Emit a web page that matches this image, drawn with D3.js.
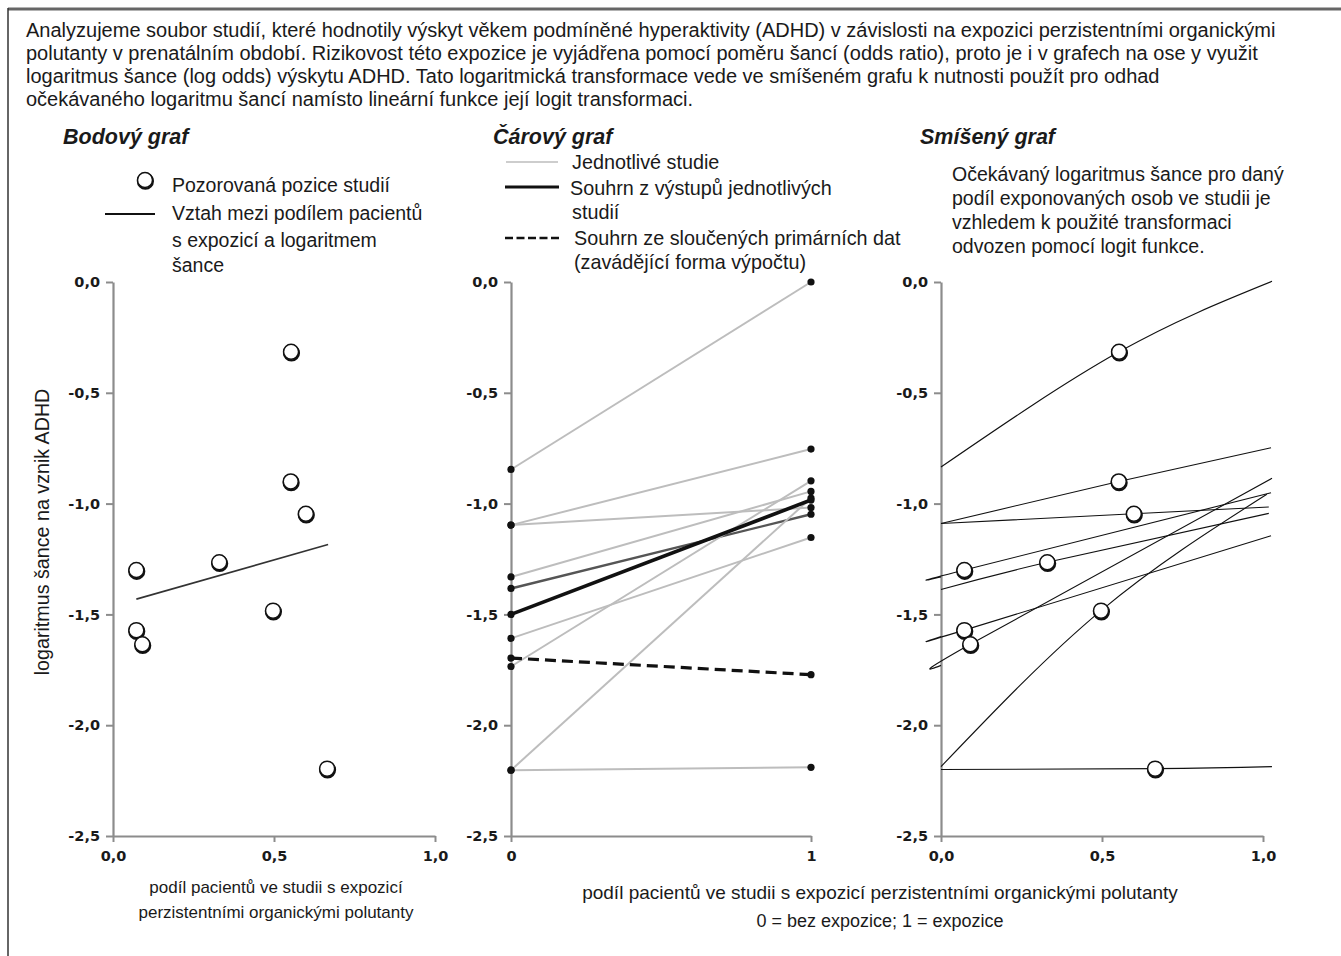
<!DOCTYPE html>
<html><head><meta charset="utf-8">
<script src="https://cdn.jsdelivr.net/npm/d3@7"></script>
<style>
body{margin:0;background:#fff;}
svg text{font-family:"Liberation Sans",Arial,sans-serif;fill:#1a1a1a;}
</style></head><body>
<svg id="chart" width="1341" height="956"></svg>
<script>
// Studies: share of exposed patients and observed log odds of ADHD
const studyShare   = [0.553, 0.552, 0.599, 0.0725, 0.330, 0.0725, 0.091, 0.497, 0.665];
const studyLogOdds = [-0.315, -0.90, -1.046, -1.30, -1.265, -1.571, -1.635, -1.483, -2.196];

// Weighted trend across studies (scatter panel)
const trendShare   = [0.0725, 0.668];
const trendLogOdds = [-1.431, -1.185];

// Log odds in the unexposed (0) and exposed (1) group of each study
const unexposedLogOdds = [-0.846, -1.097, -1.097, -1.331, -1.383, -1.608, -1.735, -2.203, -2.203];
const exposedLogOdds   = [0.0, -0.754, -1.018, -0.945, -1.048, -1.153, -0.897, -0.975, -2.19];
const pooledStudies = [-1.5, -0.984];   // summary of the study-level results
const pooledRaw     = [-1.697, -1.772]; // summary of pooled primary data

// Expected log odds curves (mixed panel): value at share 0 and at the curve's far end
const curveStart    = [-0.835, -1.09, -1.09, -1.331, -1.388, -1.60, -1.73, -2.187, -2.20];
const curveEnd      = [0.003, -0.748, -1.015, -0.951, -1.044, -1.145, -0.886, -0.958, -2.187];
const curveEndShare = [1.028, 1.025, 1.018, 1.025, 1.018, 1.025, 1.028, 1.012, 1.028];

const yTicks = [0, -0.5, -1, -1.5, -2, -2.5];
const shareTicks = [0, 0.5, 1];
const groupTicks = [0, 1];

const introLines = [
  "Analyzujeme soubor studií, které hodnotily výskyt věkem podmíněné hyperaktivity (ADHD) v závislosti na expozici perzistentními organickými",
  "polutanty v prenatálním období. Rizikovost této expozice je vyjádřena pomocí poměru šancí (odds ratio), proto je i v grafech na ose y využit",
  "logaritmus šance (log odds) výskytu ADHD. Tato logaritmická transformace vede ve smíšeném grafu k nutnosti použít pro odhad",
  "očekávaného logaritmu šancí namísto lineární funkce její logit transformaci."
];

const svg = d3.select("#chart");
const comma = d => d.toFixed(1).replace(".", ",");

// frame
svg.append("line").attr("x1", 8).attr("x2", 1341).attr("y1", 9).attr("y2", 9)
  .attr("stroke", "#666").attr("stroke-width", 3);
svg.append("line").attr("x1", 8).attr("x2", 8).attr("y1", 8).attr("y2", 956)
  .attr("stroke", "#333").attr("stroke-width", 1.5);

// intro paragraph
svg.append("g").selectAll("text").data(introLines).join("text")
  .attr("x", 26).attr("y", (d, i) => 37 + i * 23)
  .style("font-size", "20px").text(d => d);

const y = d3.scaleLinear().domain([-2.5, 0]).range([836, 282]);
const x1 = d3.scaleLinear().domain([0, 1]).range([113, 435]);
const x2 = d3.scaleLinear().domain([0, 1]).range([511, 811]);
const x3 = d3.scaleLinear().domain([0, 1]).range([941, 1263]);

function axes(x, ticks, fmt) {
  const g = svg.append("g");
  const ya = g.append("g").attr("transform", `translate(${x.range()[0]},0)`)
    .call(d3.axisLeft(y).tickValues(yTicks).tickSize(7).tickSizeOuter(0).tickPadding(6).tickFormat(comma));
  const xa = g.append("g").attr("transform", `translate(0,${y(-2.5)})`)
    .call(d3.axisBottom(x).tickValues(ticks).tickSize(6).tickSizeOuter(0).tickPadding(9).tickFormat(fmt));
  [ya, xa].forEach(a => {
    a.select(".domain").attr("stroke", "#8c8c8c").attr("stroke-width", 2.2);
    a.selectAll(".tick line").attr("stroke", "#8c8c8c").attr("stroke-width", 2);
    a.selectAll(".tick text").attr("fill", "#111")
      .style("font-family", "'DejaVu Sans', sans-serif").style("font-weight", "bold").style("font-size", "14.5px");
  });
}
axes(x1, shareTicks, comma);
axes(x2, groupTicks, d3.format("d"));
axes(x3, shareTicks, comma);

function studyCircle(g, cx, cy) {
  g.append("circle").attr("cx", cx + 0.4).attr("cy", cy + 1.2).attr("r", 7.5)
    .attr("fill", "none").attr("stroke", "#111").attr("stroke-width", 2.2);
  g.append("circle").attr("cx", cx).attr("cy", cy).attr("r", 7.5)
    .attr("fill", "#fff").attr("stroke", "#111").attr("stroke-width", 1.5);
}

// ---- Bodový graf ----
const p1 = svg.append("g");
p1.append("line")
  .attr("x1", x1(trendShare[0])).attr("y1", y(trendLogOdds[0]))
  .attr("x2", x1(trendShare[1])).attr("y2", y(trendLogOdds[1]))
  .attr("stroke", "#333").attr("stroke-width", 1.6);
studyShare.forEach((s, i) => studyCircle(p1, x1(s), y(studyLogOdds[i])));

// ---- Čárový graf ----
const p2 = svg.append("g");
const seg = d3.line().x(d => x2(d[0])).y(d => y(d[1]));
unexposedLogOdds.forEach((v, i) => {
  p2.append("path").attr("d", seg([[0, v], [1, exposedLogOdds[i]]]))
    .attr("fill", "none")
    .attr("stroke", i === 4 ? "#555" : "#bdbdbd")
    .attr("stroke-width", i === 4 ? 2.4 : 2);
});
p2.append("path").attr("d", seg([[0, pooledStudies[0]], [1, pooledStudies[1]]]))
  .attr("fill", "none").attr("stroke", "#111").attr("stroke-width", 3.6);
p2.append("path").attr("d", seg([[0, pooledRaw[0]], [1, pooledRaw[1]]]))
  .attr("fill", "none").attr("stroke", "#111").attr("stroke-width", 3.2)
  .attr("stroke-dasharray", "11,6");
const ends = [];
unexposedLogOdds.forEach((v, i) => { ends.push([0, v], [1, exposedLogOdds[i]]); });
ends.push([0, pooledStudies[0]], [1, pooledStudies[1]], [0, pooledRaw[0]], [1, pooledRaw[1]]);
p2.selectAll("circle.end").data(ends).join("circle").attr("class", "end")
  .attr("cx", d => x2(d[0])).attr("cy", d => y(d[1])).attr("r", 3.6).attr("fill", "#111");

// ---- Smíšený graf ----
const p3 = svg.append("g");
const curve = d3.line().x(d => x3(d[0])).y(d => y(d[1])).curve(d3.curveNatural);
curveStart.forEach((v, i) => {
  p3.append("path")
    .attr("d", curve([[0, v], [studyShare[i], studyLogOdds[i]], [curveEndShare[i], curveEnd[i]]]))
    .attr("fill", "none").attr("stroke", "#111").attr("stroke-width", 1.1);
});
studyShare.forEach((s, i) => studyCircle(p3, x3(s), y(studyLogOdds[i])));

// ---- titles ----
const titles = [["Bodový graf", 63], ["Čárový graf", 493], ["Smíšený graf", 920]];
titles.forEach(([t, x]) => svg.append("text").attr("x", x).attr("y", 144)
  .style("font-size", "21.5px").style("font-weight", "bold").style("font-style", "italic").text(t));

// legend: scatter
studyCircle(svg, 145, 180);
svg.append("line").attr("x1", 105).attr("x2", 155).attr("y1", 214).attr("y2", 214)
  .attr("stroke", "#111").attr("stroke-width", 2.2);
const leg1 = [["Pozorovaná pozice studií", 192], ["Vztah mezi podílem pacientů", 220],
  ["s expozicí a logaritmem", 247], ["šance", 272]];
leg1.forEach(([t, yy]) => svg.append("text").attr("x", 172).attr("y", yy).style("font-size", "19.5px").text(t));

// legend: lines
svg.append("line").attr("x1", 506).attr("x2", 558).attr("y1", 162).attr("y2", 162)
  .attr("stroke", "#bdbdbd").attr("stroke-width", 1.5);
svg.append("line").attr("x1", 505).attr("x2", 559).attr("y1", 187).attr("y2", 187)
  .attr("stroke", "#111").attr("stroke-width", 3);
svg.append("line").attr("x1", 505).attr("x2", 559).attr("y1", 238).attr("y2", 238)
  .attr("stroke", "#111").attr("stroke-width", 2.6).attr("stroke-dasharray", "8,3.5");
const leg2 = [["Jednotlivé studie", 572, 169], ["Souhrn z výstupů jednotlivých", 570, 195],
  ["studií", 572, 219], ["Souhrn ze sloučených primárních dat", 574, 245], ["(zavádějící forma výpočtu)", 574, 269]];
leg2.forEach(([t, xx, yy]) => svg.append("text").attr("x", xx).attr("y", yy).style("font-size", "19.8px").text(t));

// note: mixed panel
const note3 = ["Očekávaný logaritmus šance pro daný", "podíl exponovaných osob ve studii je",
  "vzhledem k použité transformaci", "odvozen pomocí logit funkce."];
note3.forEach((t, i) => svg.append("text").attr("x", 952).attr("y", 181 + i * 24).style("font-size", "19.5px").text(t));

// axis titles
svg.append("text").attr("transform", "translate(49,532) rotate(-90)").attr("text-anchor", "middle")
  .style("font-size", "19.7px").text("logaritmus šance na vznik ADHD");
svg.append("text").attr("x", 276).attr("y", 893).attr("text-anchor", "middle").style("font-size", "17px")
  .text("podíl pacientů ve studii s expozicí");
svg.append("text").attr("x", 276).attr("y", 918).attr("text-anchor", "middle").style("font-size", "17px")
  .text("perzistentními organickými polutanty");
svg.append("text").attr("x", 880).attr("y", 899).attr("text-anchor", "middle").style("font-size", "19px")
  .text("podíl pacientů ve studii s expozicí perzistentními organickými polutanty");
svg.append("text").attr("x", 880).attr("y", 927).attr("text-anchor", "middle").style("font-size", "18px")
  .text("0 = bez expozice; 1 = expozice");
</script>
</body></html>
